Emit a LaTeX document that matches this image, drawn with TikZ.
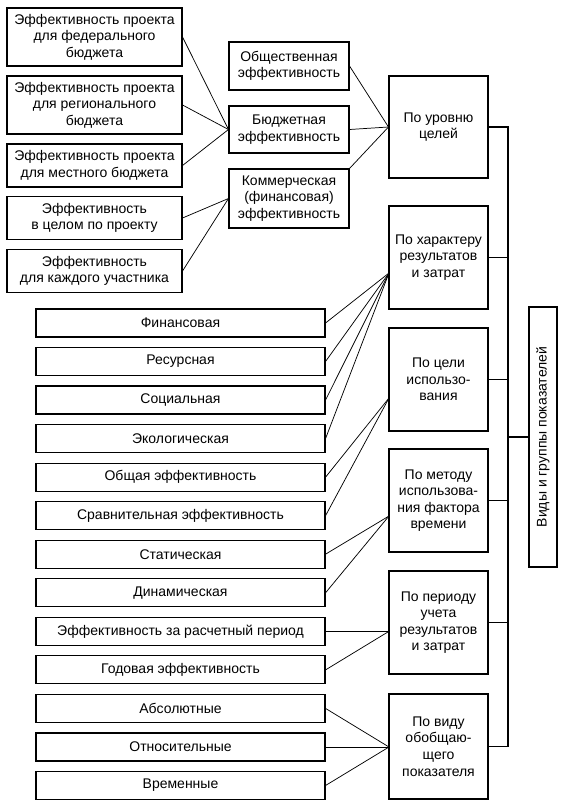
\documentclass[tikz,border=0pt]{standalone}
\usepackage{fontspec}
\setmainfont{Liberation Sans}
\begin{document}
\begin{tikzpicture}[x=0.75pt,y=-0.75pt,
  box/.style={draw,line width=0.8pt,align=center,inner sep=1pt,
    font=\fontsize{10.5}{12.4}\selectfont},
  sz/.style 2 args={minimum width=#1*0.75pt,minimum height=#2*0.75pt},
  conn/.style={line width=0.55pt}]
\useasboundingbox (0,0) rectangle (565,807);
% top-left boxes
\node[box,sz={175}{58}] (l1) at (94.5,37) {Эффективность проекта\\для федерального\\бюджета};
\node[box,sz={175}{58}] (l2) at (94.5,105) {Эффективность проекта\\для регионального\\бюджета};
\node[box,sz={175}{43}] (l3) at (94.5,165.5) {Эффективность проекта\\для местного бюджета};
\node[box,sz={175}{43}] (l4) at (94.5,218) {Эффективность\\в целом по проекту};
\node[box,sz={175}{43}] (l5) at (94.5,271) {Эффективность\\для каждого участника};
% middle boxes
\node[box,sz={120}{48}] (m1) at (289,66) {Общественная\\эффективность};
\node[box,sz={120}{47}] (m2) at (289,129.5) {Бюджетная\\эффективность};
\node[box,sz={120}{59}] (m3) at (289,198.5) {Коммерческая\\(финансовая)\\эффективность};
% right boxes
\node[box,sz={99}{102}] (r1) at (438.5,127) {По уровню\\целей};
\node[box,sz={99}{103}] (r2) at (438.5,257.5) {По характеру\\результатов\\и затрат};
\node[box,sz={99}{103}] (r3) at (438.5,379.5) {По цели\\использо-\\вания};
\node[box,sz={99}{103}] (r4) at (438.5,500.5) {По методу\\использова-\\ния фактора\\времени};
\node[box,sz={99}{103}] (r5) at (438.5,622.5) {По периоду\\учета\\результатов\\и затрат};
\node[box,sz={99}{105}] (r6) at (438.5,746.5) {По виду\\обобщаю-\\щего\\показателя};
% vertical box
\node[box,sz={260}{28},rotate=90] (vg) at (543,437) {Виды и группы показателей};
% lower boxes
\node[box,sz={289}{28}] (b1) at (180.5,323) {Финансовая};
\node[box,sz={289}{28}] (b2) at (180.5,361.5) {Ресурсная};
\node[box,sz={289}{28}] (b3) at (180.5,400) {Социальная};
\node[box,sz={289}{28}] (b4) at (180.5,438.6) {Экологическая};
\node[box,sz={289}{28}] (b5) at (180.5,477.2) {Общая эффективность};
\node[box,sz={289}{28}] (b6) at (180.5,515.7) {Сравнительная эффективность};
\node[box,sz={289}{28}] (b7) at (180.5,554.2) {Статическая};
\node[box,sz={289}{28}] (b8) at (180.5,592.8) {Динамическая};
\node[box,sz={289}{28}] (b9) at (180.5,631.3) {Эффективность за расчетный период};
\node[box,sz={289}{28}] (b10) at (180.5,669.9) {Годовая эффективность};
\node[box,sz={289}{28}] (b11) at (180.5,708.4) {Абсолютные};
\node[box,sz={289}{28}] (b12) at (180.5,747) {Относительные};
\node[box,sz={289}{28}] (b13) at (180.5,785.5) {Временные};
% convergence points
\coordinate (ck) at (389,273);
\coordinate (cc) at (389,398);
\coordinate (cm) at (389,516);
\coordinate (cp) at (389,631.3);
\coordinate (cv) at (389,747);
\coordinate (sp) at (508,0);
% top-left connectors
\draw[conn] (l1.east) -- (m2.west);
\draw[conn] (l2.east) -- (m2.west);
\draw[conn] (l3.east) -- (m2.west);
\draw[conn] (l4.east) -- (m3.west);
\draw[conn] (l5.east) -- (m3.west);
\draw[conn] (m1.east) -- (r1.west);
\draw[conn] (m2.east) -- (r1.west);
\draw[conn] (m3.north east) -- (r1.west);
% lower connectors
\foreach \b in {b1,b2,b3,b4} \draw[conn] (\b.east) -- (ck);
\foreach \b in {b5,b6} \draw[conn] (\b.east) -- (cc);
\foreach \b in {b7,b8} \draw[conn] (\b.east) -- (cm);
\foreach \b in {b9,b10} \draw[conn] (\b.east) -- (cp);
\foreach \b in {b11,b12,b13} \draw[conn] (\b.east) -- (cv);
% spine
\draw[line width=0.8pt] (r1.east) -- (r1.east -| sp) -- (r6.east -| sp) -- (r6.east);
\foreach \r in {r2,r3,r4,r5} \draw[line width=0.8pt] (\r.east) -- (\r.east -| sp);
\draw[line width=0.8pt] (vg.north) -- (vg.north -| sp);
\end{tikzpicture}
\end{document}
